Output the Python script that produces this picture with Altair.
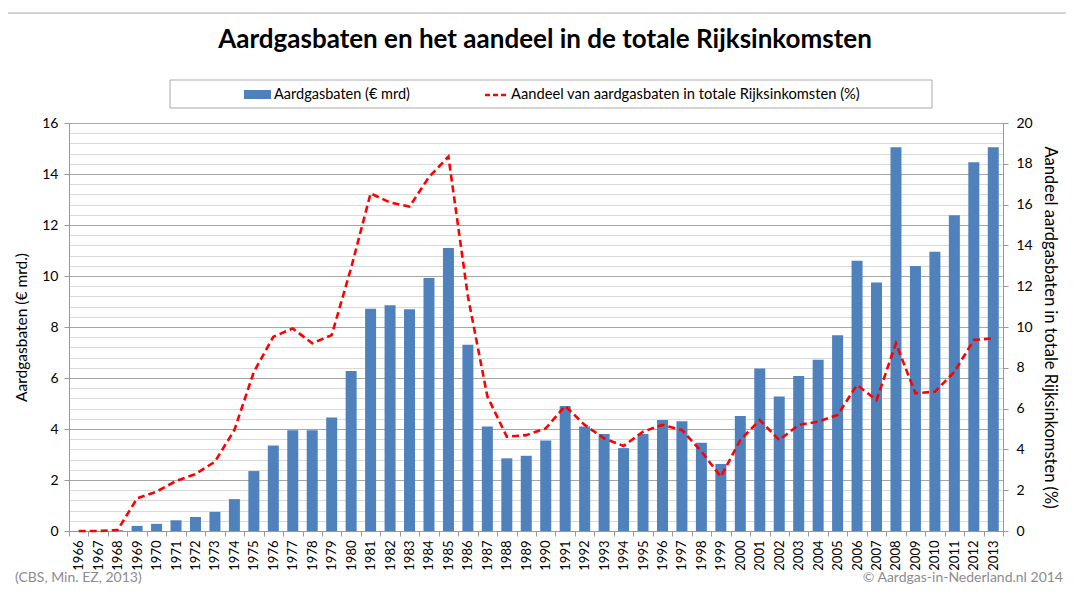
import altair as alt
import pandas as pd

years = [str(y) for y in range(1966, 2014)]
baten = [0.0, 0.0, 0.03, 0.2, 0.28, 0.42, 0.55, 0.75, 1.25, 2.35,
         3.35, 3.95, 3.95, 4.45, 6.27, 8.72, 8.85, 8.7, 9.92, 11.1,
         7.3, 4.1, 2.85, 2.95, 3.55, 4.9, 4.1, 3.8, 3.25, 3.8,
         4.35, 4.3, 3.46, 2.63, 4.51, 6.37, 5.27, 6.08, 6.72, 7.68,
         10.6, 9.75, 15.05, 10.39, 10.95, 12.38, 14.46, 15.05]
aandeel = [0.0, 0.0, 0.05, 1.6, 1.93, 2.45, 2.79, 3.4, 4.95, 7.8,
           9.52, 9.93, 9.2, 9.6, 12.9, 16.55, 16.1, 15.9, 17.35, 18.35,
           11.5, 6.6, 4.62, 4.7, 5.03, 6.13, 5.2, 4.54, 4.17, 4.87,
           5.2, 4.95, 3.9, 2.66, 4.46, 5.44, 4.46, 5.2, 5.36, 5.69,
           7.16, 6.42, 9.2, 6.75, 6.83, 7.8, 9.36, 9.45]

title_text = "Aardgasbaten en het aandeel in de totale Rijksinkomsten"
legend_bar = "Aardgasbaten (€ mrd)"
legend_line = "Aandeel van aardgasbaten in totale Rijksinkomsten (%)"
y_left_title = "Aardgasbaten (€ mrd.)"
y_right_title = "Aandeel aardgasbaten in totale Rijksinkomsten (%)"
source_text = "(CBS, Min. EZ, 2013)"
credit_text = "© Aardgas-in-Nederland.nl  2014"

left_grid = [round(0.4 * i, 1) for i in range(41)]
right_ticks = list(range(0, 21, 2))

df = pd.DataFrame({"jaar": years, "baten": baten, "aandeel": aandeel})

FONT = "Lato"
BLUE = "#4F81BD"
RED = "#FF0000"
W, H = 934, 408

major = "abs(datum.value / 2 - round(datum.value / 2)) < 0.001"

x_enc = alt.X(
    "jaar:O", title=None,
    scale=alt.Scale(paddingInner=0, paddingOuter=0),
    axis=alt.Axis(labelAngle=-90, tickBand="extent", labelFontSize=13, labelFont=FONT,
                  labelColor="#000", domainColor="#999", tickColor="#999", tickSize=5,
                  labelPadding=4),
)

bars = alt.Chart(df).mark_bar(width=11, color=BLUE).encode(
    x=x_enc,
    y=alt.Y("baten:Q", title=y_left_title,
            scale=alt.Scale(domain=[0, 16], nice=False),
            axis=alt.Axis(values=left_grid,
                          labelExpr=f"{major} ? format(datum.value, 'd') : ''",
                          gridColor={"condition": {"test": major, "value": "#a6a6a6"}, "value": "#d9d9d9"},
                          gridWidth=1.2,
                          tickColor={"condition": {"test": major, "value": "#999"}, "value": "transparent"},
                          tickSize=5, domainColor="#999", labelFontSize=14, labelFont=FONT,
                          labelColor="#000", labelPadding=6, titleFont=FONT, titleFontSize=15.5,
                          titleFontWeight="normal", titleColor="#000", titlePadding=12)),
)

line = alt.Chart(df).mark_line(color=RED, strokeDash=[7, 4], strokeWidth=2.6).encode(
    x=alt.X("jaar:O"),
    y=alt.Y("aandeel:Q", title=y_right_title,
            scale=alt.Scale(domain=[0, 20], nice=False),
            axis=alt.Axis(orient="right", values=right_ticks, grid=False, tickSize=5,
                          tickColor="#999", domainColor="#999", labelFontSize=14, labelFont=FONT,
                          labelColor="#000", labelPadding=8, titleFont=FONT, titleFontSize=16.5,
                          titleFontWeight="normal", titleColor="#000", titlePadding=9)),
)

one = pd.DataFrame({"k": [0]})


def txt(s, x, y, size=13, color="#000", align="left", weight="normal"):
    return alt.Chart(pd.DataFrame({"t": [s]})).mark_text(
        font=FONT, fontSize=size, color=color, align=align, baseline="middle", fontWeight=weight
    ).encode(x=alt.value(x), y=alt.value(y), text="t:N")


border_top = alt.Chart(one).mark_rule(color="#aaa", strokeWidth=1.2).encode(
    x=alt.value(-62), x2=alt.value(1010), y=alt.value(-110))
border_left = alt.Chart(one).mark_rule(color="#aaa", strokeWidth=1.2).encode(
    x=alt.value(-62), y=alt.value(-110), y2=alt.value(480))
legend_box = alt.Chart(one).mark_rect(fill="white", stroke="#aaa", strokeWidth=1).encode(
    x=alt.value(101), x2=alt.value(863), y=alt.value(-43), y2=alt.value(-15))
legend_sym_bar = alt.Chart(one).mark_rect(color=BLUE).encode(
    x=alt.value(175), x2=alt.value(202), y=alt.value(-33), y2=alt.value(-24))
legend_sym_line = alt.Chart(one).mark_rule(color=RED, strokeDash=[5, 3], strokeWidth=2.6).encode(
    x=alt.value(416), x2=alt.value(439), y=alt.value(-28))

chart = alt.layer(
    border_top, border_left,
    bars, line,
    legend_box, legend_sym_bar, legend_sym_line,
    txt(legend_bar, 205, -28, size=14.5),
    txt(legend_line, 442, -28, size=14.7),
    txt(title_text, 476, -83, size=26, weight="bold", align="center"),
    txt(source_text, -54, 455, size=14, color="#8c8c8c"),
    txt(credit_text, 994, 455, size=14, color="#8c8c8c", align="right"),
).resolve_scale(y="independent").properties(
    width=W, height=H,
    autosize=alt.AutoSizeParams(type="none"),
    padding={"left": 61, "top": 115, "right": 63, "bottom": 57},
).configure_view(stroke=None).configure(background="white")

chart.save("out.html", embed_options={"renderer": "svg", "actions": False})
